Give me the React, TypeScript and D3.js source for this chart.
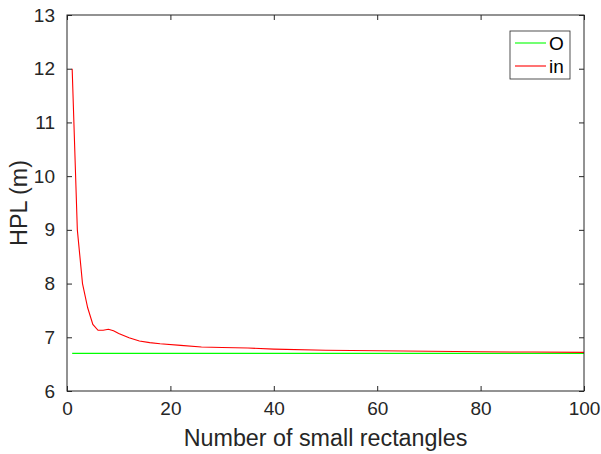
import React, { useEffect, useRef } from "react"
import { scaleLinear, line, axisBottom, axisLeft, axisTop, axisRight, select, format } from "d3"

/** Chart data */
const xTicks = [0, 20, 40, 60, 80, 100]
const yTicks = [6, 7, 8, 9, 10, 11, 12, 13]

const seriesNames = ["O", "in"]
const seriesColors = ["#00ff00", "#ff0000"]

const oX = [1, 100]
const oY = [6.7, 6.7]

const inX = [1, 2, 3, 4, 5, 6, 7, 8, 9, 10, 12, 14, 16, 18, 22, 26, 30, 35, 40, 50, 60, 70, 80, 90, 100]
const inY = [12.0, 9.0, 8.0, 7.55, 7.24, 7.13, 7.13, 7.15, 7.12, 7.07, 6.99, 6.93, 6.9, 6.88, 6.85, 6.82, 6.81, 6.8, 6.78, 6.76, 6.75, 6.74, 6.73, 6.725, 6.72]

export default function App() {
	/** figure dimensions */
	const width = 601
	const height = 454
	const margin = { left: 67, right: 17, top: 15, bottom: 63 }
	const plotWidth = width - margin.left - margin.right
	const plotHeight = height - margin.top - margin.bottom

	const axisColor = "#262626"
	const font = "'Liberation Sans', Arial, Helvetica, sans-serif"

	const xScale = scaleLinear().domain([0, 100]).range([0, plotWidth])
	const yScale = scaleLinear().domain([6, 13]).range([plotHeight, 0])

	/** series paths */
	const seriesPath = line<[number, number]>()
		.x(d => xScale(d[0]))
		.y(d => yScale(d[1]))
	const oPath = seriesPath(oX.map((x, i) => [x, oY[i]]))
	const inPath = seriesPath(inX.map((x, i) => [x, inY[i]]))

	/** axes refs */
	const xAxisRef = useRef<SVGGElement>(null)
	const yAxisRef = useRef<SVGGElement>(null)
	const topAxisRef = useRef<SVGGElement>(null)
	const rightAxisRef = useRef<SVGGElement>(null)

	useEffect(() => {
		const style = (g: any) => {
			g.select(".domain").remove()
			g.selectAll(".tick line").attr("stroke", axisColor)
			g.selectAll(".tick text")
				.attr("fill", axisColor)
				.style("font-family", font)
				.style("font-size", "19px")
		}

		select(xAxisRef.current)
			.call(axisBottom(xScale).tickValues(xTicks).tickFormat(format("d")).tickSizeInner(-5).tickSizeOuter(0).tickPadding(11) as any)
			.call(style)
		select(yAxisRef.current)
			.call(axisLeft(yScale).tickValues(yTicks).tickFormat(format("d")).tickSizeInner(-5).tickSizeOuter(0).tickPadding(12) as any)
			.call(style)
		select(topAxisRef.current)
			.call(axisTop(xScale).tickValues(xTicks).tickSizeInner(-5).tickSizeOuter(0).tickFormat(() => "") as any)
			.call(style)
		select(rightAxisRef.current)
			.call(axisRight(yScale).tickValues(yTicks).tickSizeInner(-5).tickSizeOuter(0).tickFormat(() => "") as any)
			.call(style)
	}, [])

	/** legend box */
	const legend = { x: 510, y: 31, w: 60, h: 48 }

	return (
		<svg width={width} height={height} style={{ position: "absolute", left: 0, top: 0, background: "#fff" }}>
			<rect x={0} y={0} width={width} height={height} fill="#fff" />
			<g transform={`translate(${margin.left}, ${margin.top})`}>
				<path d={oPath ?? ""} fill="none" stroke={seriesColors[0]} strokeWidth={1.1} />
				<path d={inPath ?? ""} fill="none" stroke={seriesColors[1]} strokeWidth={1.1} />
				<rect x={0} y={0} width={plotWidth} height={plotHeight} fill="none" stroke={axisColor} strokeWidth={1} />
				<g ref={xAxisRef} transform={`translate(0, ${plotHeight})`} />
				<g ref={yAxisRef} />
				<g ref={topAxisRef} />
				<g ref={rightAxisRef} transform={`translate(${plotWidth}, 0)`} />
			</g>

			<text x={margin.left + plotWidth / 2} y={446} textAnchor="middle" fill={axisColor}
				style={{ fontFamily: font, fontSize: 23.3 }}>Number of small rectangles</text>
			<text transform={`translate(27, ${margin.top + plotHeight / 2}) rotate(-90)`} textAnchor="middle" fill={axisColor}
				style={{ fontFamily: font, fontSize: 23.3 }}>HPL (m)</text>

			<g transform={`translate(${legend.x}, ${legend.y})`}>
				<rect x={0} y={0} width={legend.w} height={legend.h} fill="#fff" stroke={axisColor} strokeWidth={0.8} />
				{seriesNames.map((name, i) => (
					<g key={name} transform={`translate(0, ${12 + i * 23})`}>
						<line x1={5} x2={36} y1={0} y2={0} stroke={seriesColors[i]} strokeWidth={1.1} />
						<text x={39} y={7} fill="#000" style={{ fontFamily: font, fontSize: 19 }}>{name}</text>
					</g>
				))}
			</g>
		</svg>
	)
}
